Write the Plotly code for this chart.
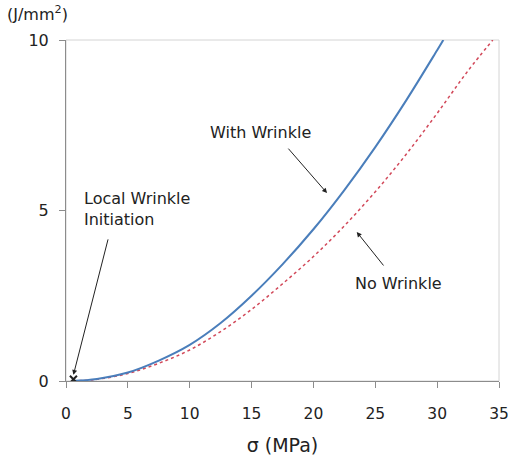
import plotly.graph_objects as go

# Stress (MPa) vs. energy (J/mm^2)
sigma_with = [0.5, 2.5, 5, 7.5, 10, 12.5, 15, 17.5, 20, 22.5, 25, 27.5, 30, 30.5]
energy_with = [0.0, 0.06, 0.25, 0.6, 1.06, 1.7, 2.5, 3.42, 4.45, 5.6, 6.86, 8.23, 9.7, 10.0]

sigma_no = [0.5, 2.5, 5, 7.5, 10, 12.5, 15, 17.5, 20, 22.5, 25, 27.5, 30, 32.5, 34.5]
energy_no = [0.0, 0.05, 0.22, 0.52, 0.91, 1.45, 2.1, 2.85, 3.65, 4.55, 5.55, 6.65, 7.85, 9.1, 10.0]

init_sigma = [0.6]
init_energy = [0.05]

x_ticks = [0, 5, 10, 15, 20, 25, 30, 35]
y_ticks = [0, 5, 10]

FONT = "DejaVu Sans, sans-serif"

fig = go.Figure()
fig.add_trace(go.Scatter(x=sigma_no, y=energy_no, mode="lines",
                         line=dict(color="#d2495a", width=1.5, dash="dot"),
                         line_shape="spline", showlegend=False))
fig.add_trace(go.Scatter(x=sigma_with, y=energy_with, mode="lines",
                         line=dict(color="#4a7ebb", width=2),
                         line_shape="spline", showlegend=False))
fig.add_trace(go.Scatter(x=init_sigma, y=init_energy, mode="markers",
                         marker=dict(symbol="x-thin", size=7,
                                     line=dict(color="#222", width=2)),
                         showlegend=False))

# light frame on top and right of plotting area
fig.add_shape(type="rect", xref="paper", yref="paper", x0=0, y0=0, x1=1, y1=1,
              line=dict(color="#d4d4d4", width=1), layer="below")

arrow = dict(showarrow=True, arrowhead=2, arrowsize=1, arrowwidth=1,
             arrowcolor="#222", text="", axref="pixel", ayref="pixel")
fig.add_annotation(x=21.1, y=5.51, ax=-40, ay=-46, **arrow)
fig.add_annotation(x=23.5, y=4.37, ax=28, ay=35, **arrow)
fig.add_annotation(x=0.6, y=0.18, ax=35, ay=-137, **arrow)

txt = dict(showarrow=False, font=dict(family=FONT, size=16, color="#222"))
fig.add_annotation(x=15.72, y=7.3, text="With Wrinkle", **txt)
fig.add_annotation(x=26.84, y=2.87, text="No Wrinkle", **txt)
fig.add_annotation(x=1.3, y=5.05, text="Local Wrinkle<br>Initiation",
                   xanchor="left", align="left", **txt)
fig.add_annotation(xref="paper", yref="paper", x=-0.14, y=1.0, yshift=14,
                   xanchor="left", yanchor="bottom",
                   text="(J/mm<sup>2</sup>)", **txt)

fig.update_layout(
    width=508, height=456,
    margin=dict(l=66, r=9, t=40, b=75),
    paper_bgcolor="white", plot_bgcolor="white",
    font=dict(family=FONT, size=16, color="#222"),
    xaxis=dict(range=[0, 35], tickvals=x_ticks, showgrid=False, zeroline=False,
               automargin=False, ticklabeloverflow="allow",
               tickfont=dict(size=15.5),
               showline=True, linecolor="#8c8c8c", linewidth=1,
               ticks="outside", ticklen=6, tickcolor="#8c8c8c",
               ticklabelstandoff=12,
               title=dict(text="σ (MPa)", standoff=20)),
    yaxis=dict(range=[0, 10], tickvals=y_ticks, showgrid=False, zeroline=False,
               automargin=False,
               showline=True, linecolor="#8c8c8c", linewidth=1,
               ticks="outside", ticklen=6, tickcolor="#8c8c8c",
               ticklabelstandoff=7),
)

fig.write_html("out.html")
